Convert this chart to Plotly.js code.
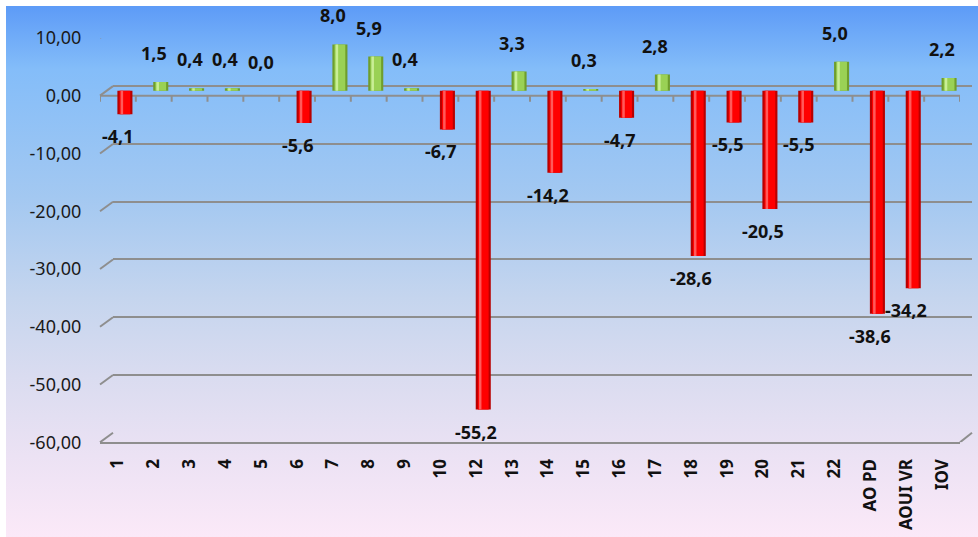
<!DOCTYPE html>
<html>
<head>
<meta charset="utf-8">
<script src="https://cdn.plot.ly/plotly-3.0.1.min.js"></script>
<style>
html,body{margin:0;padding:0;background:#ffffff;}
#bg{position:absolute;left:6px;top:6px;width:972px;height:531px;
background:linear-gradient(to bottom,#5d9bf7 0%,#84bdf9 12%,#a3c8f1 36%,#c5d5ee 55%,#dadcf0 70%,#ece2f4 85%,#fbe9f8 100%);}
#chart{position:absolute;left:0;top:0;width:978px;height:537px;}
</style>
</head>
<body>
<div id="bg"></div>
<div id="chart"></div>
<script>
// ---- data ----
var categories = ["1","2","3","4","5","6","7","8","9","10","12","13","14","15","16","17","18","19","20","21","22","AO PD","AOUI VR","IOV"];
var values = [-4.1, 1.5, 0.4, 0.4, 0.0, -5.6, 8.0, 5.9, 0.4, -6.7, -55.2, 3.3, -14.2, 0.3, -4.7, 2.8, -28.6, -5.5, -20.5, -5.5, 5.0, -38.6, -34.2, 2.2];
var yTickValues = [10, 0, -10, -20, -30, -40, -50, -60];
var yTickLabels = ["10,00", "0,00", "-10,00", "-20,00", "-30,00", "-40,00", "-50,00", "-60,00"];

// ---- styling ----
var W = 978, H = 537;
function px(x){ return x / W; }
function py(y){ return 1 - y / H; }
var gridColor = '#8e8e8e';
var FONT = 'Noto Sans, DejaVu Sans, sans-serif';

function pick(v, pos, neg){ return v >= 0 ? pos : neg; }
var edgeCol = values.map(function(v){ return pick(v, '#6f9e2c', '#b80000'); });
var mainCol = values.map(function(v){ return pick(v, '#9ad155', '#ff0000'); });
var hiCol   = values.map(function(v){ return pick(v, '#c9ee96', '#ff5a5a'); });

var common = {x: categories, y: values, type: 'bar', xaxis: 'x2', yaxis: 'y2',
  hoverinfo: 'skip', showlegend: false};
function bar(extra){ var o = {}; for (var k in common) o[k] = common[k]; for (var k2 in extra) o[k2] = extra[k2]; return o; }

var traces = [
  {x: categories, y: values, type: 'scatter', mode: 'markers', marker: {opacity: 0}, xaxis: 'x', yaxis: 'y', hoverinfo: 'skip', showlegend: false},
  bar({width: 0.42, marker: {color: edgeCol, line: {width: 0}}}),
  bar({width: 0.30, marker: {color: mainCol, line: {width: 0}}}),
  bar({width: 0.07, offset: -0.12, marker: {color: hiCol, line: {width: 0}}}),
  {x: categories, y: values, type: 'scatter', mode: 'markers', marker: {opacity: 0}, xaxis: 'x3', yaxis: 'y3', hoverinfo: 'skip', showlegend: false}
];

var shapes = [];
shapes.push({type: 'line', layer: 'below', xref: 'paper', x0: px(100), x1: px(960), yref: 'y3', y0: 0, y1: 0,
  line: {color: gridColor, width: 2}});
for (var i = 0; i <= categories.length; i++) {
  shapes.push({type: 'line', layer: 'below', xref: 'x3', x0: i - 0.5, x1: i - 0.5,
    yref: 'y3', ysizemode: 'pixel', yanchor: 0, y0: 0, y1: -6,
    line: {color: gridColor, width: 2}});
}
yTickValues.forEach(function(v){
  shapes.push({type: 'line', layer: 'below', xref: 'paper', xsizemode: 'pixel', xanchor: px(100), x0: 0, x1: 13,
    yref: 'y3', ysizemode: 'pixel', yanchor: v, y0: 0, y1: 9.5,
    line: {color: gridColor, width: 2}});
});
shapes.push({type: 'line', layer: 'below', xref: 'paper', xsizemode: 'pixel', xanchor: px(960), x0: 0, x1: 12,
  yref: 'y3', ysizemode: 'pixel', yanchor: -60, y0: 0, y1: 9.5,
  line: {color: gridColor, width: 2}});

var annotations = values.map(function(v, i){
  return {x: i, xref: 'x3', y: v, yref: 'y2', showarrow: false,
    text: v.toFixed(1).replace('.', ','), yanchor: 'middle', xanchor: 'center',
    yshift: v >= 0 ? 29 : -22,
    font: {family: FONT, size: 18, color: '#111111', weight: 'bold'}};
});

var catAxis = {type: 'category', range: [-0.5, categories.length - 0.5], showgrid: false, zeroline: false,
  showticklabels: false, ticks: '', showline: false, fixedrange: true};
function clone(o, extra){ var r = {}; for (var k in o) r[k] = o[k]; for (var k2 in extra) r[k2] = extra[k2]; return r; }

var layout = {
  width: W, height: H,
  margin: {l: 0, r: 0, t: 0, b: 0},
  paper_bgcolor: 'rgba(0,0,0,0)', plot_bgcolor: 'rgba(0,0,0,0)',
  barmode: 'overlay',
  showlegend: false,
  font: {family: FONT},
  xaxis: clone(catAxis, {domain: [px(113), px(972)], anchor: 'y'}),
  yaxis: {domain: [py(432.8), py(28.4)], range: [-60, 10], anchor: 'x', tickvals: yTickValues,
    showgrid: true, gridcolor: gridColor, gridwidth: 2, zeroline: false, showticklabels: false, ticks: '', showline: false, fixedrange: true},
  xaxis2: clone(catAxis, {domain: [px(107), px(967)], anchor: 'y2'}),
  yaxis2: {domain: [py(437.3), py(32.9)], range: [-60, 10], anchor: 'x2', showgrid: false, zeroline: false,
    showticklabels: false, ticks: '', showline: false, fixedrange: true},
  xaxis3: clone(catAxis, {domain: [px(100), px(960)], anchor: 'y3', showticklabels: true, tickangle: -90,
    ticks: 'outside', ticklen: 8, tickcolor: 'rgba(0,0,0,0)',
    showline: true, linecolor: gridColor, linewidth: 2,
    tickfont: {family: FONT, size: 17, color: '#111111', weight: 'bold'}}),
  yaxis3: {domain: [py(442.3), py(37.9)], range: [-60, 10], anchor: 'x3', showgrid: false, zeroline: false,
    tickvals: yTickValues, ticktext: yTickLabels, ticks: 'outside', ticklen: 14, tickcolor: 'rgba(0,0,0,0)',
    showline: false, tickfont: {family: FONT, size: 18, color: '#1a1a1a'}, fixedrange: true},
  shapes: shapes,
  annotations: annotations
};

Plotly.newPlot('chart', traces, layout, {displayModeBar: false, staticPlot: true});
</script>
</body>
</html>
